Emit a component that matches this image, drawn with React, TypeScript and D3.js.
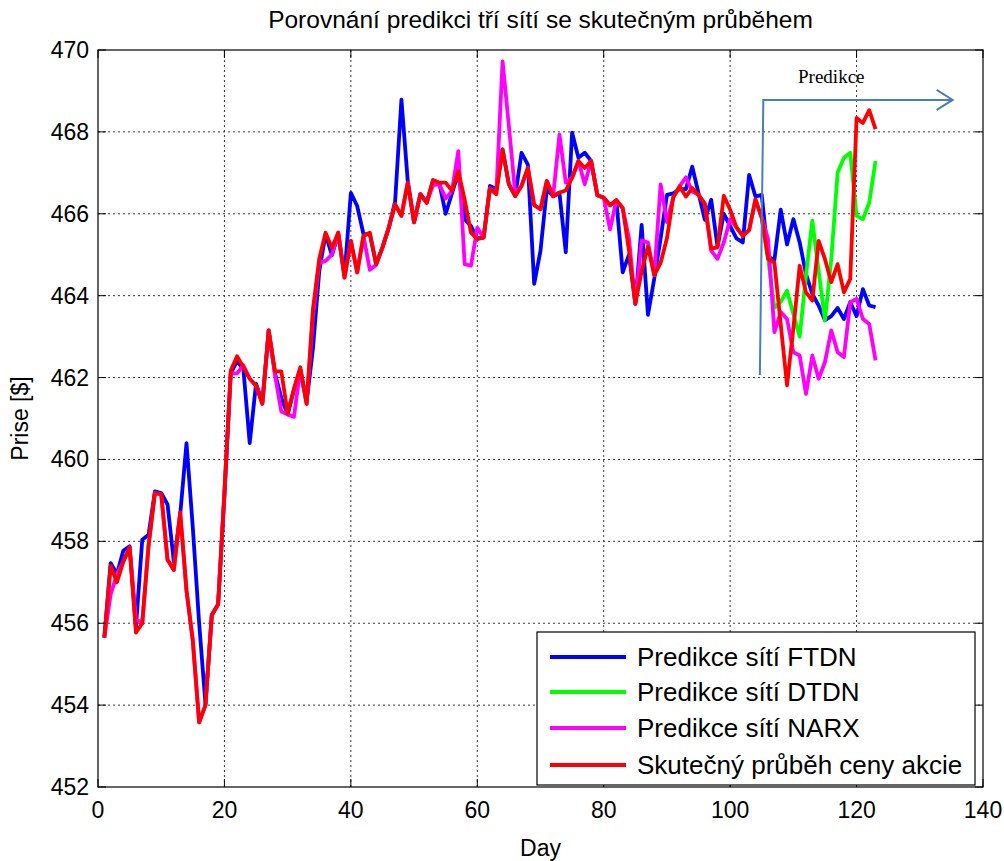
import React from 'react';
import * as d3 from 'd3';

const title = 'Porovnání predikci tří sítí se skutečným průběhem';
const xLabel = 'Day';
const yLabel = 'Prise [$]';
const xTicks = [0, 20, 40, 60, 80, 100, 120, 140];
const yTicks = [452, 454, 456, 458, 460, 462, 464, 466, 468, 470];
const legendLabels = [
  'Predikce sítí FTDN',
  'Predikce sítí DTDN',
  'Predikce sítí NARX',
  'Skutečný průběh ceny akcie',
];
const seriesColors = ['#0000ff', '#00ff00', '#ff00ff', '#ff0000'];

// Skutečný průběh (days 1..123)
const actual = [
  455.65, 457.4, 457.0, 457.5, 457.85, 455.77, 456.0, 457.9, 459.18, 459.15,
  457.55, 457.3, 458.7, 456.8, 455.57, 453.58, 454.0, 456.2, 456.46, 459.2,
  462.17, 462.52, 462.25, 461.97, 461.8, 461.36, 463.15, 462.15, 462.15, 461.12,
  461.73, 462.25, 461.36, 463.67, 464.9, 465.54, 465.17, 465.54, 464.44, 465.34,
  464.57, 465.46, 465.54, 464.77, 465.18, 465.66, 466.23, 465.95, 466.76, 465.79,
  466.48, 466.27, 466.82, 466.76, 466.76, 466.56, 467.04, 466.35, 465.54, 465.38,
  465.42, 466.62, 466.48, 467.57, 466.72, 466.43, 466.68, 467.12, 466.21, 466.11,
  466.8, 466.43, 466.52, 466.57, 466.88, 467.29, 467.12, 467.29, 466.45, 466.39,
  466.21, 466.33, 466.14, 465.1, 463.8, 464.6, 465.2, 464.5, 464.8, 465.4,
  466.4, 466.67, 466.42, 466.63, 466.46, 466.24, 465.15, 465.18, 466.44, 466.1,
  465.67, 465.46, 465.6, 466.35, 465.9, 464.9, 464.81, 463.3, 461.81, 463.2,
  464.73, 464.08, 463.88, 465.34, 464.89, 464.33, 464.77, 464.08, 464.41, 468.34,
  468.22, 468.53, 468.07,
];

// FTDN (days 1..123)
const ftdn = [
  455.65, 457.47, 457.2, 457.77, 457.88, 455.9, 458.04, 458.16, 459.22, 459.18,
  458.9, 457.5, 458.65, 460.4, 458.33, 456.0, 454.03, 456.2, 456.46, 459.1,
  462.1, 462.4, 462.2, 460.4, 461.85, 461.4, 463.15, 462.1, 461.5, 461.1,
  461.7, 462.2, 461.4, 462.7, 464.6, 465.5, 464.99, 465.5, 464.5, 466.51,
  466.19, 465.5, 465.5, 464.77, 465.18, 465.66, 466.3, 468.79, 466.8, 465.8,
  466.48, 466.27, 466.82, 466.75, 466.0, 466.5, 467.0, 465.87, 465.7, 465.4,
  465.42, 466.68, 466.6, 467.57, 466.72, 466.43, 467.49, 467.2, 464.29, 465.1,
  466.6, 466.43, 466.5, 465.06, 467.98, 467.37, 467.49, 467.29, 466.45, 466.39,
  466.21, 466.33, 464.57, 465.0, 463.8, 465.73, 463.53, 464.42, 465.4, 466.46,
  466.5, 466.6, 466.6, 467.15, 466.5, 465.85, 466.34, 465.2, 466.0, 465.7,
  465.4, 465.3, 466.95, 466.42, 466.46, 464.95, 464.87, 466.1, 465.25, 465.87,
  465.3, 464.53, 464.04, 463.76, 463.4, 463.5, 463.7, 463.43, 463.84, 463.5,
  464.16, 463.76, 463.72,
];

// NARX (days 1..123)
const narx = [
  455.65, 456.7, 457.2, 457.5, 457.85, 456.1, 456.0, 457.9, 459.18, 459.15,
  457.55, 457.3, 458.7, 456.8, 455.57, 453.58, 454.0, 456.2, 456.46, 459.2,
  462.1, 462.1, 462.3, 461.97, 461.8, 461.36, 463.15, 462.06, 461.17, 461.1,
  461.04, 462.2, 461.36, 463.5, 464.8, 464.85, 465.0, 465.54, 464.44, 465.34,
  464.57, 465.46, 464.63, 464.75, 465.18, 465.66, 466.23, 465.95, 466.76, 465.79,
  466.48, 466.27, 466.7, 466.72, 466.37, 466.56, 467.53, 464.77, 464.73, 465.66,
  465.42, 466.62, 466.48, 469.72, 468.14, 466.5, 466.68, 467.12, 466.21, 466.11,
  466.8, 466.43, 467.93, 466.76, 466.88, 467.29, 466.72, 467.29, 466.45, 466.39,
  465.62, 466.33, 466.14, 465.4, 463.8, 465.35, 465.3, 464.5, 466.72, 465.8,
  466.4, 466.67, 466.89, 466.55, 466.46, 466.24, 465.1, 464.9, 465.3, 465.87,
  465.67, 465.46, 465.6, 466.35, 465.9, 465.38, 463.11, 463.6, 463.43, 462.62,
  462.54, 461.6, 462.54, 461.97, 462.38, 463.15, 462.62, 462.5, 463.84, 463.92,
  463.43, 463.31, 462.42,
];

// DTDN (days 105..123)
const dtdnFirstDay = 105;
const dtdn = [
  465.9, 464.9, 463.7, 463.85, 464.12, 463.55, 463.0, 464.5, 465.83, 464.6,
  463.4, 464.9, 467.0, 467.37, 467.49, 465.95, 465.87, 466.27, 467.29,
];

// annotation "Predikce" (data units)
const annotText = 'Predikce';
const annotArrow = { xBottom: 104.7, xTop: 105.25, yBottom: 462.06, yTop: 468.78, xEnd: 135.2 };
const annotLabel = { x: 116.0, y: 469.2 };

const FONT = '"Liberation Sans", Arial, Helvetica, sans-serif';

export default function App() {
  const W = 1004;
  const H = 861;
  const left = 98, right = 983, top = 50, bottom = 787;
  const x = d3.scaleLinear().domain([0, 140]).range([left, right]);
  const y = d3.scaleLinear().domain([452, 470]).range([bottom, top]);
  const line = d3
    .line<[number, number]>()
    .x((d) => x(d[0]))
    .y((d) => y(d[1]));

  const toPts = (vals: number[], first: number) =>
    vals.map((v, i) => [first + i, v] as [number, number]);

  const series = [
    toPts(ftdn, 1),
    toPts(dtdn, dtdnFirstDay),
    toPts(narx, 1),
    toPts(actual, 1),
  ];

  const gridColor = '#3a3a3a';
  const tickLen = 8;

  // legend geometry
  const lgX = 537, lgY = 632, lgW = 438, lgH = 153;
  const rowY = [657, 692, 728, 765];

  const ax = x(annotArrow.xEnd);
  const ay = y(annotArrow.yTop);

  return (
    <svg
      width={W}
      height={H}
      style={{ position: 'absolute', left: 0, top: 0, background: '#fff', display: 'block' }}
      fontFamily={FONT}
    >
      <rect x={0} y={0} width={W} height={H} fill="#fff" />
      {/* grid */}
      {xTicks.slice(1, -1).map((t) => (
        <line key={'gx' + t} x1={x(t)} x2={x(t)} y1={top} y2={bottom} stroke={gridColor} strokeWidth={1} strokeDasharray="2,3" />
      ))}
      {yTicks.slice(1, -1).map((t) => (
        <line key={'gy' + t} x1={left} x2={right} y1={y(t)} y2={y(t)} stroke={gridColor} strokeWidth={1} strokeDasharray="2,3" />
      ))}
      {/* series */}
      {series.map((pts, i) => (
        <path key={'s' + i} d={line(pts) || ''} fill="none" stroke={seriesColors[i]} strokeWidth={3.8} strokeLinejoin="round" strokeLinecap="butt" />
      ))}
      {/* annotation */}
      <path
        d={`M${x(annotArrow.xBottom)},${y(annotArrow.yBottom)} L${x(annotArrow.xTop)},${ay} L${ax},${ay}`}
        fill="none"
        stroke="#4a7ebb"
        strokeWidth={2}
      />
      <path d={`M${ax - 16},${ay - 10} L${ax},${ay} L${ax - 16},${ay + 10}`} fill="none" stroke="#4a7ebb" strokeWidth={2} />
      <text x={x(annotLabel.x)} y={y(annotLabel.y)} textAnchor="middle" fontFamily='"Liberation Serif", "Times New Roman", serif' fontSize={19} fill="#000">
        {annotText}
      </text>
      {/* axes box */}
      <rect x={left} y={top} width={right - left} height={bottom - top} fill="none" stroke="#000" strokeWidth={1.2} />
      {/* ticks */}
      {xTicks.map((t) => (
        <g key={'tx' + t}>
          <line x1={x(t)} x2={x(t)} y1={bottom} y2={bottom - tickLen} stroke="#000" />
          <line x1={x(t)} x2={x(t)} y1={top} y2={top + tickLen} stroke="#000" />
          <text x={x(t)} y={818} textAnchor="middle" fontSize={23} fill="#000">
            {t}
          </text>
        </g>
      ))}
      {yTicks.map((t) => (
        <g key={'ty' + t}>
          <line x1={left} x2={left + tickLen} y1={y(t)} y2={y(t)} stroke="#000" />
          <line x1={right} x2={right - tickLen} y1={y(t)} y2={y(t)} stroke="#000" />
          <text x={89} y={y(t) + 8} textAnchor="end" fontSize={23} fill="#000">
            {t}
          </text>
        </g>
      ))}
      {/* labels */}
      <text x={(left + right) / 2} y={28} textAnchor="middle" fontSize={24.5} fill="#000">
        {title}
      </text>
      <text x={(left + right) / 2} y={856} textAnchor="middle" fontSize={23} fill="#000">
        {xLabel}
      </text>
      <text transform={`translate(28, ${(top + bottom) / 2}) rotate(-90)`} textAnchor="middle" fontSize={23} fill="#000">
        {yLabel}
      </text>
      {/* legend */}
      <rect x={lgX} y={lgY} width={lgW} height={lgH} fill="#fff" stroke="#000" strokeWidth={1.2} />
      {legendLabels.map((lab, i) => (
        <g key={'lg' + i}>
          <line x1={550} x2={626} y1={rowY[i]} y2={rowY[i]} stroke={seriesColors[i]} strokeWidth={3.8} />
          <text x={637} y={rowY[i] + 9} fontSize={26} fill="#000">
            {lab}
          </text>
        </g>
      ))}
    </svg>
  );
}
